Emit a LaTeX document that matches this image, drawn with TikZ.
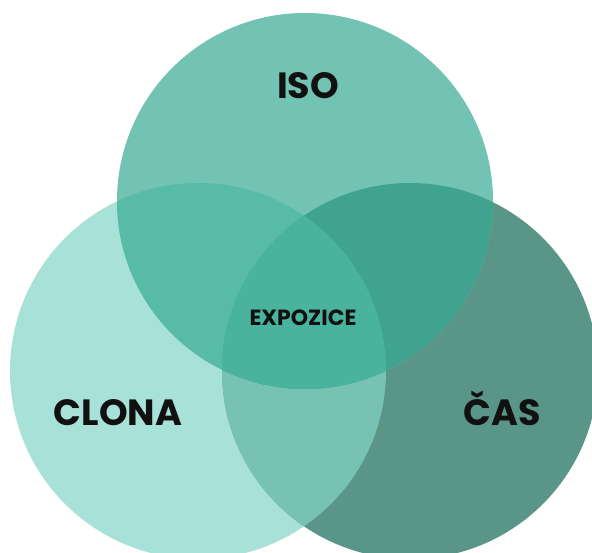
\documentclass[tikz,border=0pt]{standalone}
\usepackage{fontspec}
\setmainfont{Poppins}[BoldFont={Poppins Bold}]
\definecolor{topc}{HTML}{72C3B3}
\definecolor{leftc}{HTML}{A8E1D7}
\definecolor{rightc}{HTML}{5A9687}
\definecolor{tlc}{HTML}{57BBA8}
\definecolor{trc}{HTML}{3FA390}
\definecolor{lrc}{HTML}{78C2B3}
\definecolor{midc}{HTML}{4AB39D}
\definecolor{txt}{HTML}{111111}
\begin{document}
\begin{tikzpicture}[x=1pt,y=-1pt,
  lbl/.style={text=txt,font=\bfseries\fontsize{36.5}{40}\selectfont,inner sep=0pt},
  small/.style={text=txt,font=\bfseries\fontsize{22}{24}\selectfont,inner sep=0pt}]
\useasboundingbox (0,0) rectangle (592,553);
\clip (0,0) rectangle (592,553);
\def\R{188}
\coordinate (T) at (305,201);
\coordinate (L) at (198,371);
\coordinate (Rt) at (410,371);
\fill[leftc] (L) circle (\R);
\fill[rightc] (Rt) circle (\R);
\fill[topc] (T) circle (\R);
\begin{scope}
  \clip (L) circle (\R);
  \fill[lrc] (Rt) circle (\R);
\end{scope}
\begin{scope}
  \clip (T) circle (\R);
  \fill[tlc] (L) circle (\R);
  \fill[trc] (Rt) circle (\R);
\end{scope}
\begin{scope}
  \clip (T) circle (\R);
  \clip (L) circle (\R);
  \fill[midc] (Rt) circle (\R);
\end{scope}
\node[lbl] (iso) at (308,86) {ISO};
\node[lbl,anchor=base] (clona) at (118,425) {CLONA};
\node[lbl,anchor=base] (cas) at (502,425) {ČAS};
\node[small,anchor=base] (expo) at (303,326) {EXPOZICE};
\end{tikzpicture}
\end{document}
